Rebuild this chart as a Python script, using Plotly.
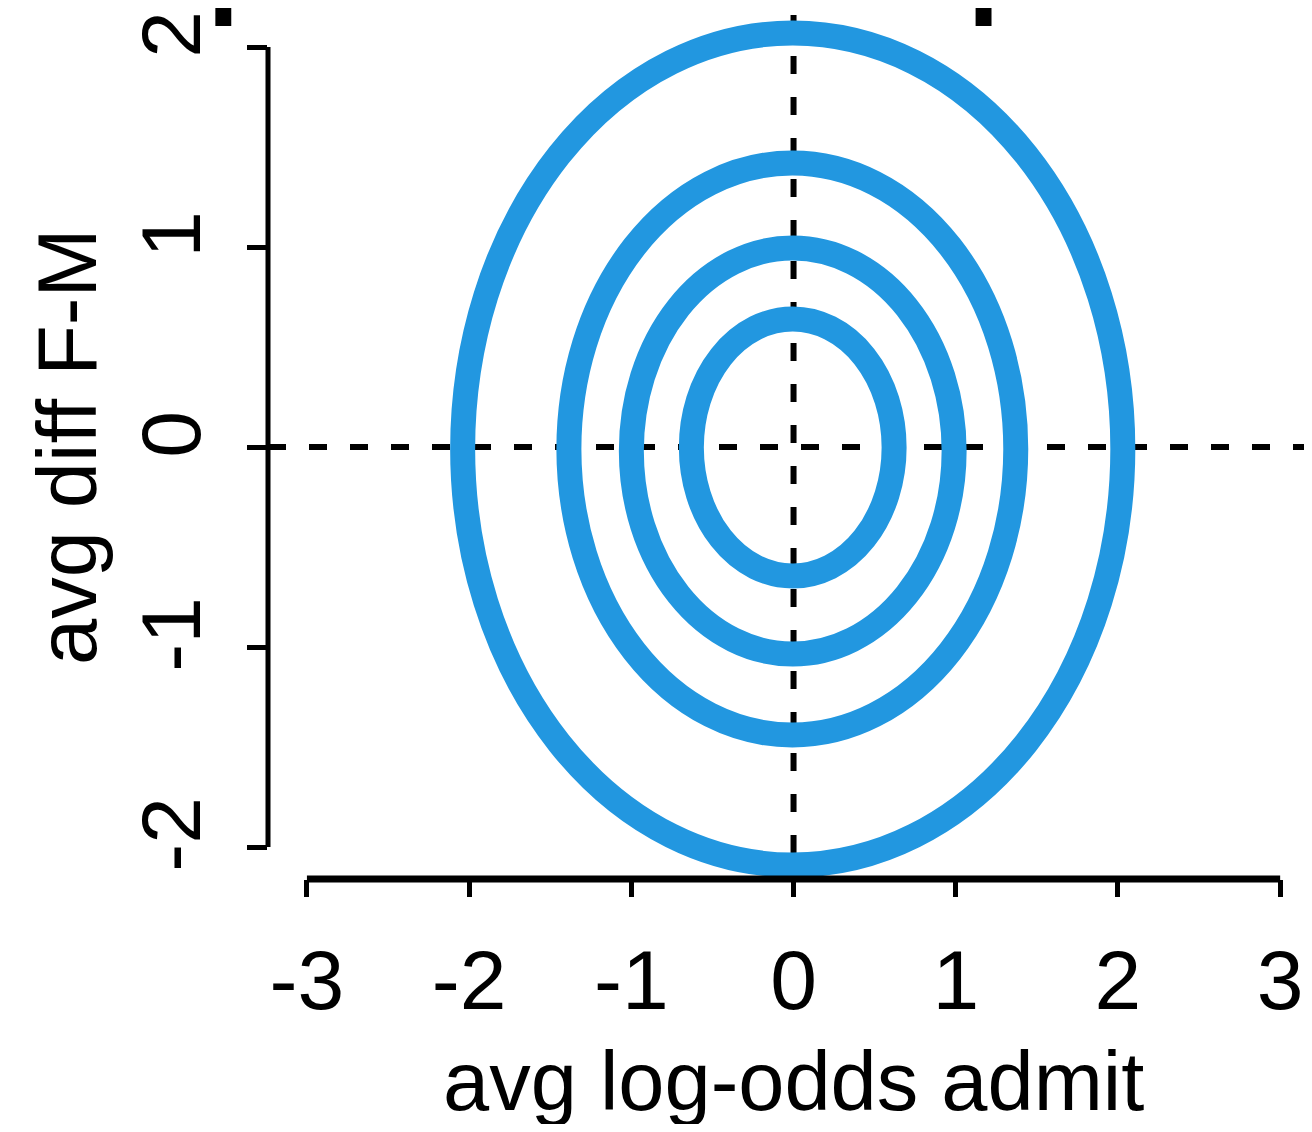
import plotly.graph_objects as go

# ---- data ----
x_ticks = [-3, -2, -1, 0, 1, 2, 3]
y_ticks = [-2, -1, 0, 1, 2]
x_range = [-3.24, 3.147]
y_range = [-2.16, 2.16]

# contour ellipses (inner -> outer): bounds in data units
ell_x_lo = [-0.63, -1.00, -1.385, -2.04]
ell_x_hi = [0.62, 0.99, 1.37, 2.03]
ell_y_lo = [-0.645, -1.035, -1.44, -2.09]
ell_y_hi = [0.64, 0.995, 1.42, 2.07]

ref_x = 0
ref_y = 0

title_text = "Population of departments"
x_title = "avg log-odds admit"
y_title = "avg diff F-M"

BLUE = "#2297E0"
FONT = "Liberation Sans, Arial, Helvetica, sans-serif"

fig = go.Figure()
# invisible trace to establish axes
fig.add_trace(go.Scatter(x=[ref_x], y=[ref_y], mode="markers",
                         marker=dict(opacity=0), hoverinfo="skip",
                         showlegend=False))

shapes = []
# dashed reference lines
shapes.append(dict(type="line", xref="x", yref="y",
                   x0=x_range[0], x1=x_range[1], y0=ref_y, y1=ref_y,
                   line=dict(color="black", width=6, dash="18px,23px")))
shapes.append(dict(type="line", xref="x", yref="y",
                   x0=ref_x, x1=ref_x, y0=y_range[1], y1=y_range[0],
                   line=dict(color="black", width=6, dash="18px,23px")))
# ellipses
for x0, x1, y0, y1 in zip(ell_x_lo, ell_x_hi, ell_y_lo, ell_y_hi):
    shapes.append(dict(type="circle", xref="x", yref="y",
                       x0=x0, x1=x1, y0=y0, y1=y1,
                       line=dict(color=BLUE, width=25)))
# R-style axis lines spanning only the tick range
shapes.append(dict(type="line", xref="x", yref="paper",
                   x0=x_ticks[0], x1=x_ticks[-1], y0=0, y1=0,
                   line=dict(color="black", width=7)))
shapes.append(dict(type="line", xref="paper", yref="y",
                   x0=0, x1=0, y0=y_ticks[0], y1=y_ticks[-1],
                   line=dict(color="black", width=5)))

annotations = [
    dict(text="<b>%s</b>" % title_text, xref="x", yref="paper",
         x=ref_x, y=1.0613, xanchor="center", yanchor="middle",
         showarrow=False, font=dict(family=FONT, size=116, color="black")),
    dict(text=x_title, xref="x", yref="paper", x=ref_x, y=-0.2349,
         xanchor="center", yanchor="middle", showarrow=False,
         font=dict(family=FONT, size=83, color="black")),
    dict(text=y_title, xref="paper", yref="paper", x=-0.194, y=0.5,
         xanchor="center", yanchor="middle", textangle=-90, showarrow=False,
         font=dict(family=FONT, size=83, color="black")),
]

fig.update_layout(
    width=1296, height=1116,
    margin=dict(l=260, r=0, t=7, b=245, autoexpand=False),
    paper_bgcolor="white", plot_bgcolor="white",
    shapes=shapes, annotations=annotations, showlegend=False,
    xaxis=dict(range=x_range, tickvals=x_ticks, ticktext=[str(v) for v in x_ticks],
               showgrid=False, zeroline=False, showline=False,
               ticks="outside", ticklen=17, tickwidth=5, tickcolor="black",
               tickfont=dict(family=FONT, size=84, color="black"),
               ticklabelstandoff=11, automargin=False, fixedrange=True),
    yaxis=dict(range=y_range, tickvals=y_ticks, ticktext=[str(v) for v in y_ticks],
               showgrid=False, zeroline=False, showline=False,
               ticks="outside", ticklen=20, tickwidth=5, tickcolor="black",
               tickangle=-90,
               tickfont=dict(family=FONT, size=84, color="black"),
               ticklabelstandoff=13, automargin=False, fixedrange=True),
)

fig.write_html("out.html")
